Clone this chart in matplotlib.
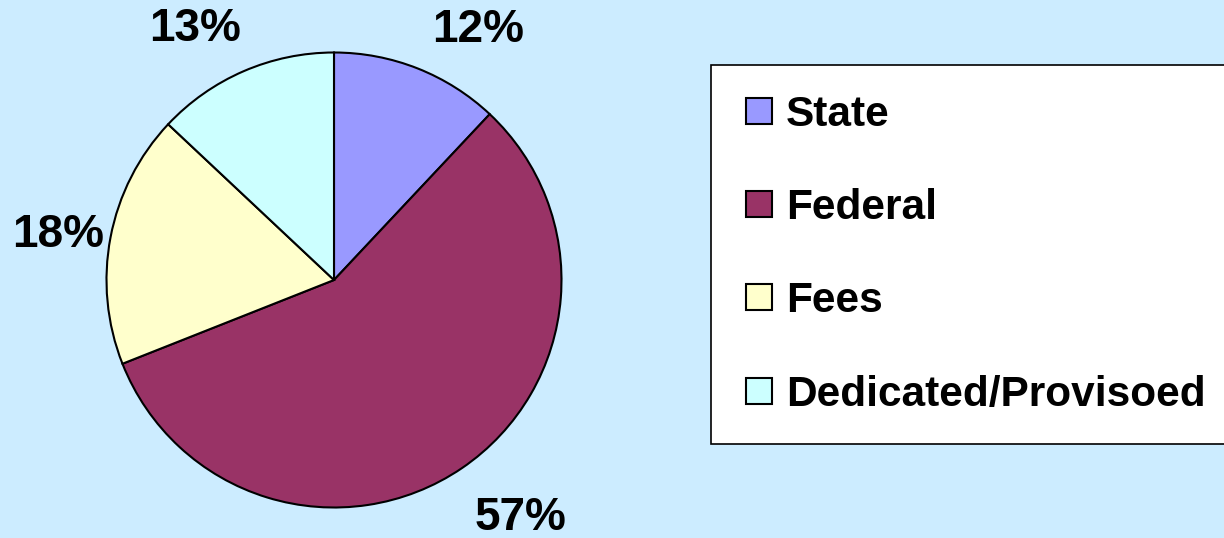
import numpy as np
import matplotlib
matplotlib.use("Agg")
import matplotlib.pyplot as plt
from matplotlib.patches import Rectangle
from matplotlib.legend_handler import HandlerPatch

# Funding sources (percent)
categories = ["State", "Federal", "Fees", "Dedicated/Provisoed"]
shares = [12, 57, 18, 13]
colors = ["#9999FF", "#993366", "#FFFFCC", "#CCFFFF"]

BG = "#CCECFF"
plt.rcParams["font.family"] = ["Liberation Sans", "DejaVu Sans"]

fig = plt.figure(figsize=(12.24, 5.38), dpi=100, facecolor=BG)
ax = fig.add_axes([106.5 / 1224, 30.5 / 538, 455 / 1224, 455 / 538])
ax.set_facecolor(BG)

wedges, texts, autotexts = ax.pie(
    shares, colors=colors, startangle=90, counterclock=False,
    autopct=lambda p: f"{p:.0f}%", pctdistance=1.28,
    wedgeprops={"edgecolor": "black", "linewidth": 1.5},
    textprops={"fontsize": 33, "fontweight": "bold", "color": "black"},
)
ax.set_xlim(-1, 1)
ax.set_ylim(-1, 1)

# label placement (angle in degrees, distance in radii), Excel-style outside labels
label_angle = [60.0, -52, 170.7, 119]
label_dist = [1.27, 1.33, 1.23, 1.26]
for t, a, d in zip(autotexts, label_angle, label_dist):
    t.set_position((d * np.cos(np.radians(a)), d * np.sin(np.radians(a))))
    t.set_clip_on(False)
ax.set_aspect("equal")
ax.axis("off")


def square(legend, orig_handle, xdescent, ydescent, width, height, fontsize):
    # small square marker at the right end of the handle box
    return Rectangle((width - height - xdescent, -ydescent), height, height)


leg = fig.legend(
    wedges, categories, loc="upper left", bbox_to_anchor=(711 / 1224, 1 - 65 / 538),
    prop={"weight": "bold", "size": 30.5}, frameon=True, fancybox=False,
    edgecolor="black", facecolor="white", framealpha=1,
    handler_map={w: HandlerPatch(patch_func=square) for w in wedges},
    handlelength=0.74, handleheight=0.57, handletextpad=0.33,
    labelspacing=1.26, borderpad=0.7, borderaxespad=0,
)
leg.get_frame().set_linewidth(1.2)

fig.savefig("out.png", dpi=100, facecolor=BG)
